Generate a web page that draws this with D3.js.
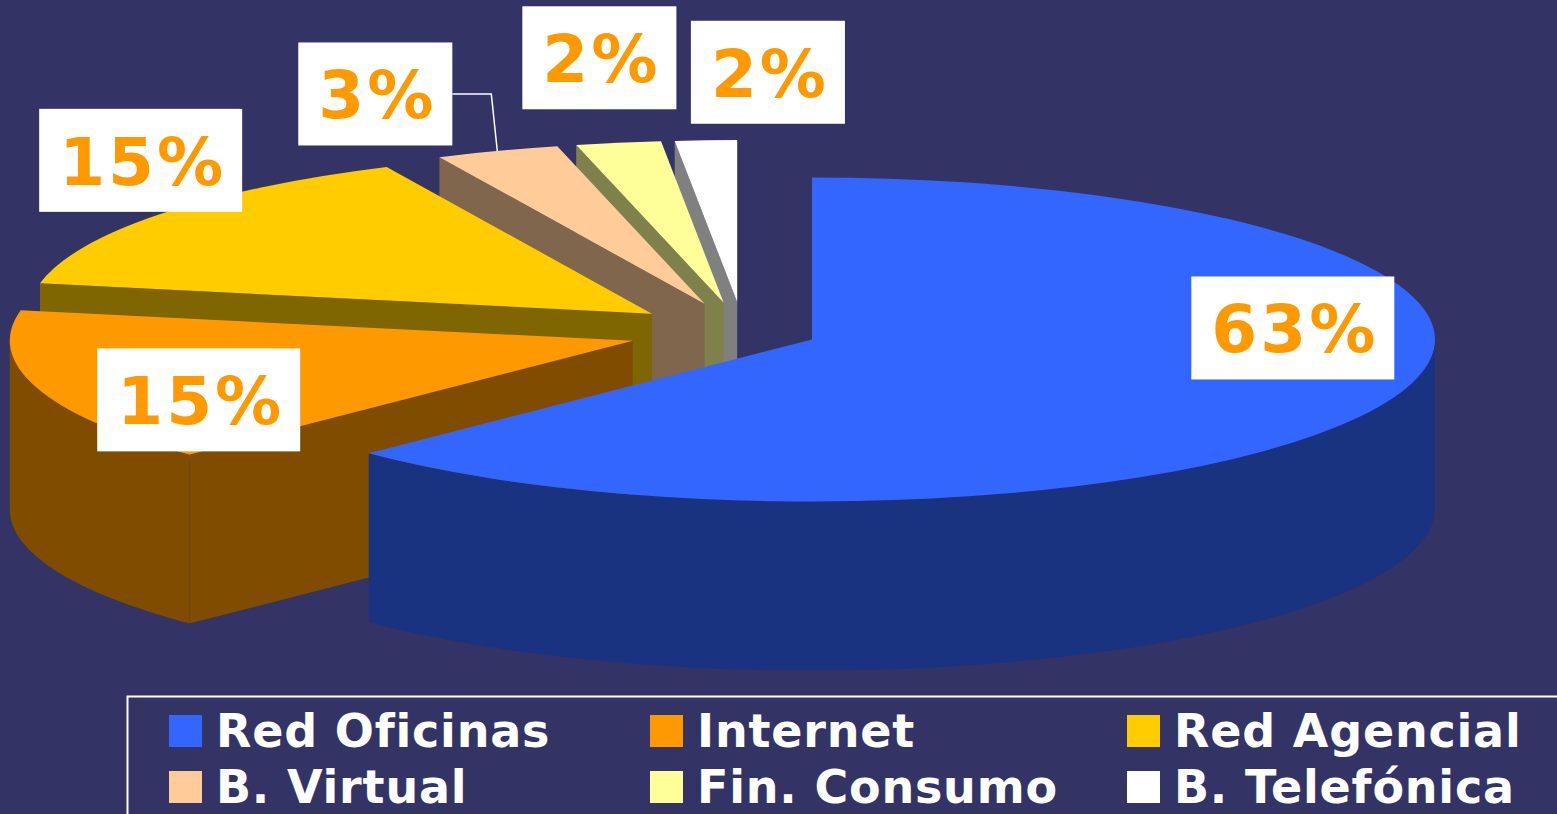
<!DOCTYPE html>
<html>
<head>
<meta charset="utf-8">
<script src="https://cdn.jsdelivr.net/npm/d3@7"></script>
<style>
   html, body { margin: 0; padding: 0; background: #333366; overflow: hidden; }
   text { font-family: "DejaVu Sans", Verdana, sans-serif; font-weight: bold; }
</style>
</head>
<body>
<div id="chart"></div>
<script>
// DATA
var categories = ['Red Oficinas', 'Internet', 'Red Agencial', 'B. Virtual', 'Fin. Consumo', 'B. Telefónica'];
var shares = [62.6, 15.4, 15.0, 3.2, 2.2, 1.6];
var colors = ['#3366FF', '#FF9900', '#FFCC00', '#FFCC99', '#FFFF99', '#FFFFFF'];

// LAYOUT
var settings = {
   width: 1557,
   height: 814,
   center: { x: 743, y: 332 },
   rx: 623,
   ry: 162,
   depth: 169,
   explode: [0.12, 0.185, 0.185, 0.185, 0.185, 0.185],
   labelNudge: [[-94, -74], [162, 12], [-19, -54], [-122, -57], [-19, -85], [62, -68]],
   leader: [false, false, false, true, false, false],
   labelSize: 66,
   legendSize: 46
}

// PIE ANGLES (0 = 12 O'CLOCK, CLOCKWISE)
var slices = d3.pie().sort(null).value((d) => { return d })(shares)

// POINT ON ELLIPSE RIM
function rim(c, a, dy) {
   return [c.x + settings.rx * Math.sin(a), c.y - settings.ry * Math.cos(a) + (dy || 0)]
}

// SHADE COLOUR FOR SIDES
function shade(col) {
   var c = d3.rgb(col)
   return d3.rgb(c.r * 0.5, c.g * 0.5, c.b * 0.5).toString()
}

// EXPLODED CENTERS
slices.forEach((s, i) => {
   var mid = (s.startAngle + s.endAngle) / 2
   var e = settings.explode[i]
   s.index = i
   s.mid = mid
   s.c = {
      x: settings.center.x + e * settings.rx * Math.sin(mid),
      y: settings.center.y - e * settings.ry * Math.cos(mid)
   }
})

// GENERATE CANVAS
var canvas = d3.select('#chart').append('svg')
   .attr('width', settings.width)
   .attr('height', settings.height)

canvas.append('rect')
   .attr('width', settings.width)
   .attr('height', settings.height)
   .attr('fill', '#333366')

var pieLayer = canvas.append('g')
var arcTop = d3.arc().innerRadius(0).outerRadius(settings.rx)
var D = settings.depth

// DRAW SLICES BACK TO FRONT
slices.slice().sort((a, b) => { return -Math.cos(a.mid) - -Math.cos(b.mid) }).forEach((s) => {
   var g = pieLayer.append('g')
   var side = shade(colors[s.index])
   var c = s.c

   // CUT FACES
   var faces = []
   if (Math.sin(s.startAngle) < -1e-6) faces.push(s.startAngle)
   if (Math.sin(s.endAngle) > 1e-6) faces.push(s.endAngle)
   faces.forEach((a) => {
      var p = rim(c, a)
      g.append('path')
         .attr('fill', side)
         .attr('d', 'M' + c.x + ',' + c.y + 'L' + p[0] + ',' + p[1] +
            'L' + p[0] + ',' + (p[1] + D) + 'L' + c.x + ',' + (c.y + D) + 'Z')
   })

   // OUTER WALL (FRONT HALF ONLY)
   var b0 = Math.max(s.startAngle, Math.PI / 2)
   var b1 = Math.min(s.endAngle, Math.PI * 1.5)
   if (b1 > b0) {
      var p0 = rim(c, b0), p1 = rim(c, b1)
      var large = (b1 - b0) > Math.PI ? 1 : 0
      g.append('path')
         .attr('fill', side)
         .attr('d', 'M' + p0[0] + ',' + p0[1] +
            'A' + settings.rx + ',' + settings.ry + ' 0 ' + large + ' 1 ' + p1[0] + ',' + p1[1] +
            'L' + p1[0] + ',' + (p1[1] + D) +
            'A' + settings.rx + ',' + settings.ry + ' 0 ' + large + ' 0 ' + p0[0] + ',' + (p0[1] + D) + 'Z')
   }

   // TOP SURFACE
   g.append('path')
      .attr('transform', 'translate(' + c.x + ',' + c.y + ') scale(1,' + (settings.ry / settings.rx) + ')')
      .attr('fill', colors[s.index])
      .attr('d', arcTop(s))
})

// DATA LABELS
var labelLayer = canvas.append('g')
slices.forEach((s) => {
   var anchor = rim(s.c, s.mid)
   var nudge = settings.labelNudge[s.index]
   var lx = anchor[0] + nudge[0]
   var ly = anchor[1] + nudge[1]
   var g = labelLayer.append('g')
   var box = g.append('rect').attr('fill', '#FFFFFF')
   var txt = g.append('text')
      .attr('x', lx + 2)
      .attr('y', ly + settings.labelSize * 0.37)
      .attr('text-anchor', 'middle')
      .attr('font-size', settings.labelSize)
      .attr('letter-spacing', 3)
      .attr('fill', '#FF9900')
      .text(Math.round(s.data) + '%')
   var w = txt.node().getComputedTextLength() + 36
   var h = 103
   box.attr('x', lx - w / 2).attr('y', ly - h / 2).attr('width', w).attr('height', h)

   // LEADER LINE
   if (settings.leader[s.index]) {
      var sx = lx + w / 2
      labelLayer.append('path')
         .attr('fill', 'none')
         .attr('stroke', '#FFFFFF')
         .attr('stroke-width', 1.5)
         .attr('d', 'M' + sx + ',' + ly + 'L' + (anchor[0] - 6) + ',' + ly + 'L' + anchor[0] + ',' + anchor[1])
   }
})

// LEGEND
var legend = canvas.append('g')
legend.append('rect')
   .attr('x', 127.5).attr('y', 696.5)
   .attr('width', 1600).attr('height', 300)
   .attr('fill', 'none')
   .attr('stroke', '#FFFFFF')
   .attr('stroke-width', 2)

var colX = d3.scaleOrdinal().domain([0, 1, 2]).range([169, 650, 1127])
var rowY = d3.scaleOrdinal().domain([0, 1]).range([715, 771])

var items = legend.selectAll('g.item')
   .data(categories)
   .enter().append('g')
      .attr('class', 'item')
      .attr('transform', (d, i) => { return 'translate(' + colX(i % 3) + ',' + rowY(Math.floor(i / 3)) + ')' })

items.append('rect')
   .attr('width', 33)
   .attr('height', 32)
   .attr('fill', (d, i) => { return colors[i] })

items.append('text')
   .attr('x', 47)
   .attr('y', 32)
   .attr('font-size', settings.legendSize)
   .attr('letter-spacing', 0.8)
   .attr('fill', '#FFFFFF')
   .text((d) => { return d })
</script>
</body>
</html>
